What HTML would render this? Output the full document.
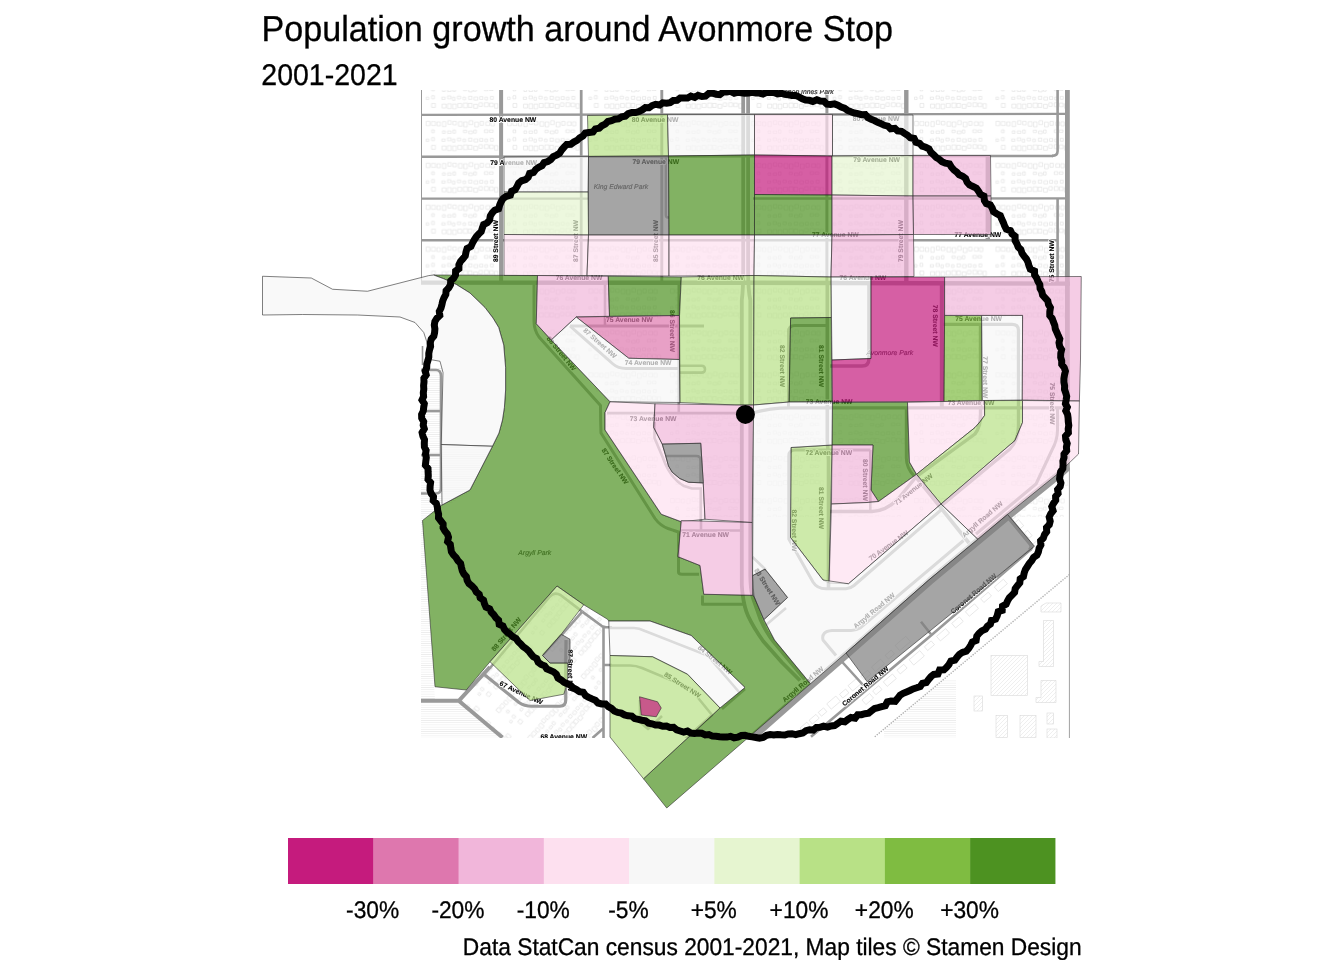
<!DOCTYPE html>
<html lang="en">
<head>
<meta charset="utf-8">
<title>Population growth around Avonmore Stop</title>
<style>
html,body{margin:0;padding:0;background:#fff;}
body{width:1344px;height:960px;overflow:hidden;font-family:"Liberation Sans",Arial,sans-serif;}
svg{display:block;position:absolute;left:0;top:0;}
text{font-family:"Liberation Sans",Arial,sans-serif;fill:#000;text-rendering:geometricPrecision;}
.title,.sub,.cap,.lg{stroke:#000;stroke-width:0.3px;}
.title{font-size:36.0px;}
.sub{font-size:30px;}
.cap{font-size:24px;}
.lg{font-size:24px;}
.pl polygon,.pl path{fill-opacity:0.7;stroke:#2a2a2a;stroke-width:0.6;stroke-linejoin:round;}
.c1{fill:#C51B7D}
.c2{fill:#DE77AE}
.c3{fill:#F1B6DA}
.c4{fill:#FDE0EF}
.c5{fill:#F7F7F7}
.c6{fill:#E6F5D0}
.c7{fill:#B8E186}
.c8{fill:#7FBC41}
.c9{fill:#4D9221}
.na{fill:#7F7F7F}
.rd{fill:none;stroke:#999;stroke-linecap:butt;stroke-linejoin:round;}
.rl{font-size:6.8px;font-weight:bold;fill:#000;stroke:#000;stroke-width:0.1px;}
.h{fill:#fff;stroke:#fff;stroke-width:2px;stroke-linejoin:round;}
.pk{font-size:6.8px;font-style:italic;fill:#222;stroke:#222;stroke-width:0.15px;}
.pk.h{fill:#fff;stroke:#fff;stroke-width:1.4px;}
</style>
</head>
<body>
<svg width="1344" height="960" viewBox="0 0 1344 960">
<rect width="1344" height="960" fill="#fff"/>
<defs>
<clipPath id="mapclip"><rect x="421" y="90" width="649" height="647.5"/></clipPath>
<pattern id="bld" x="501.1" y="114.9" width="81.4" height="41.9" patternUnits="userSpaceOnUse">
<path d="M6.5 6.4h3.7v4.4h-3.7zM11.8 6.7h3.9v3.9h-3.9zM17.3 7.0h3.3v4.0h-3.3zM22.8 6.7h3.3v5.0h-3.3zM28.2 5.8h3.4v3.6h-3.4zM33.2 6.4h3.5v3.6h-3.5zM38.8 6.8h3.8v4.5h-3.8zM44.1 7.0h3.5v5.0h-3.5zM49.5 5.8h3.6v3.9h-3.6zM55.1 7.2h3.7v4.8h-3.7zM60.6 6.5h3.2v3.9h-3.2zM66.3 6.9h3.7v3.7h-3.7zM71.4 6.9h3.3v4.1h-3.3zM12.0 15.0h2.6v2.8h-2.6zM22.8 16.0h2.7v2.5h-2.7zM27.9 16.1h3.6v2.4h-3.6zM33.3 15.1h2.5v3.2h-2.5zM43.8 15.3h3.2v2.4h-3.2zM49.1 16.1h3.7v2.7h-3.7zM54.1 15.1h2.6v3.1h-2.6zM64.8 14.9h3.6v2.8h-3.6zM69.8 15.1h3.7v2.4h-3.7zM6.5 24.1h2.5v2.4h-2.5zM11.9 22.7h2.8v3.1h-2.8zM22.2 24.1h3.2v2.3h-3.2zM27.9 22.9h3.3v2.9h-3.3zM32.8 24.2h2.4v3.1h-2.4zM37.7 23.2h3.3v2.7h-3.3zM43.4 24.1h2.5v2.7h-2.5zM48.9 23.3h3.4v3.0h-3.4zM54.4 24.0h3.7v3.1h-3.7zM60.0 23.6h3.2v2.8h-3.2zM65.3 24.1h2.5v2.8h-2.5zM70.8 23.4h2.9v2.9h-2.9zM11.9 30.5h3.8v3.9h-3.8zM22.4 31.1h4.0v3.9h-4.0zM27.8 30.8h3.7v4.8h-3.7zM32.9 31.1h3.7v4.7h-3.7zM38.1 30.5h3.9v4.0h-3.9zM43.7 30.1h4.2v4.6h-4.2zM48.7 30.4h3.7v4.0h-3.7zM54.1 31.3h3.8v4.0h-3.8zM59.4 29.8h3.3v3.6h-3.3zM64.8 29.7h3.9v4.0h-3.9zM69.9 30.1h3.7v3.6h-3.7zM74.9 30.7h3.3v4.5h-3.3z" fill="none" stroke="#d6d6d6" stroke-width="0.5"/>
</pattern>
<clipPath id="swclip"><path d="M459 701L557 587L602 618V738H502Z"/></clipPath>
<pattern id="hat" x="0" y="0" width="6" height="2.2" patternUnits="userSpaceOnUse">
<path d="M0 1.1H6" stroke="#e9e9e9" stroke-width="0.7"/>
</pattern>
<pattern id="dhat" x="0" y="0" width="4" height="4" patternUnits="userSpaceOnUse">
<path d="M-1 5L5 -1M-1 1L1 -1M3 5L5 3" stroke="#dedede" stroke-width="0.5"/>
</pattern>
<filter id="soft" x="-2%" y="-2%" width="104%" height="104%"><feGaussianBlur stdDeviation="0.4"/></filter>
</defs>
<g id="basemap" clip-path="url(#mapclip)"><g filter="url(#soft)">
<g id="texture">
<rect x="421" y="90" width="649" height="193" fill="url(#bld)"/>
<rect x="537" y="283" width="533" height="124" fill="url(#bld)"/>
<rect x="606" y="407" width="464" height="110" fill="url(#bld)" opacity="0.7"/>
<rect x="588.5" y="157" width="164.5" height="78" fill="#fff"/>
<rect x="832" y="283" width="112" height="120" fill="#fff"/>
<path d="M421 283H537V325L606 402V430L660 515L681 523V595H753L810 684L750 738H421Z" fill="#fff"/>
<path d="M421 368H442V444H494L470 492L423 520H421Z" fill="url(#hat)"/>
<path d="M421 520V738H500L458 700H435L423 520Z" fill="url(#hat)"/>
<path d="M884 738V729L943 680H956V738Z" fill="url(#hat)"/>
<g clip-path="url(#swclip)"><g transform="translate(455 700) rotate(-49)"><rect x="-60" y="0" width="220" height="130" fill="url(#bld)" opacity="0.9"/></g></g>
<g fill="url(#dhat)" stroke="#d9d9d9" stroke-width="0.6">
<rect x="991" y="655.5" width="36.5" height="40"/>
<path d="M1043.5 620.5h10v46h-14.5v-5h4.5z"/>
<path d="M1041 680.5h15v22h-20v-5h5z"/>
<rect x="996" y="715.5" width="11.5" height="22"/>
<rect x="1020" y="715.5" width="16" height="22"/>
<rect x="1047" y="713" width="6.5" height="11"/>
<rect x="1047" y="729" width="10" height="9"/>
<path d="M1041 606l5-3h15v9h-20z"/>
<rect x="974" y="696" width="8.5" height="15"/>
</g>
<g fill="none" stroke="#dcdcdc" stroke-width="0.6">
<path d="M0 0h9v5h-9zM12 0h9v5h-9zM24 0h7v5h-7zM36 -1h12v7h-12zM52 0h8v5h-8zM64 -1h11v7h-11zM80 0h9v5h-9zM94 0h12v6h-12zM112 0h8v5h-8zM126 -1h14v7h-14z" transform="translate(800 728) rotate(-40.5)"/>
<path d="M0 0h10v6h-10zM14 0h8v5h-8zM28 0h12v6h-12zM46 0h9v5h-9zM62 0h14v7h-14zM82 0h9v5h-9zM98 0h12v6h-12zM118 0h10v6h-10zM136 0h12v6h-12zM156 0h10v5h-10zM174 0h12v6h-12z" transform="translate(862 700) rotate(-40.5)"/>
<path d="M0 0h6v4h-6zM10 0h8v5h-8zM24 0h7v4h-7zM38 0h9v5h-9z" transform="translate(1012 512) rotate(49.5)"/>
</g>
</g>

<g class="rd" stroke-width="2.6">
<!-- north grid: streets -->
<path d="M421.4 90V282" stroke-width="1.2"/>
<path d="M501.1 90V282" stroke-width="4"/>
<path d="M581.2 90V282" stroke-width="2.75"/>
<path d="M661.8 90V282" stroke-width="2.9"/>
<path d="M665.8 157V215Q665.8 217.5 668 217.5H669" stroke-width="2.4"/>
<path d="M743.2 90V270Q743.2 290 741.8 300V585Q743 605 748.25 616.25T763.25 641.25L782 662.5L800 680.5" stroke-width="3.8"/>
<path d="M748.1 90V270Q748.1 290 750.3 300V575Q750.5 590 752.8 597.5L760.75 620Q766 632 773.25 641.25L805 679.5" stroke-width="3.8"/>
<path d="M826.9 90V282" stroke-width="3"/>
<path d="M906.3 90V282" stroke-width="4.4"/>
<path d="M987.8 156V240" stroke-width="4.4"/>
<path d="M1057.6 90V151Q1057.6 155.9 1052 155.9" />
<path d="M1057.6 198V282"/>
<path d="M1067.4 90V467" stroke-width="4.8"/>
<path d="M1069.6 463V738" stroke-width="1.4" stroke="#aaa"/>
<!-- avenues -->
<path d="M421 114.9L745 114.4L1065 113.9" stroke-width="2.4"/>
<path d="M421 156.75L745 156.3L1053 155.9" stroke-width="2.5"/>
<path d="M421 198.6H588M753 198.5L1065 198.4" stroke-width="2.4"/>
<path d="M421 240.2H1057" stroke-width="2.6"/>
<path d="M421 282.6L745 282.8L1070 283.6" stroke-width="4.4"/>
<!-- 73 Ave -->
<path d="M607 413.1H741" stroke-width="2.8"/>
<path d="M752 413Q770 407.8 790 407.8H1064" stroke-width="3.3"/>
<!-- mid-west local roads -->
<path d="M534 284V321Q534 330 539 337L600.5 405.5Q600.5 420 601 433L655 518.5Q660 525.5 668 528.5L678.5 532V572Q678.5 574.25 682 574.25H699" stroke-width="3"/>
<path d="M702.5 595.5V604.25H745" stroke-width="3"/>
<path d="M605 284V326"/>
<path d="M570 326H704" stroke-width="3"/>
<path d="M570 326L613 364Q618 368.5 626 368.5H680" stroke-width="3"/>
<path d="M680 365.8H701.5Q705 365.8 705 369.2T701.5 372.6H680"/>
<path d="M678.8 284V412"/>
<path d="M654.5 412V438L663 458Q670 478 684 486L692 488.5H702"/>
<path d="M666 456H696.5Q700.5 456 700.5 460.5V483"/>
<path d="M700.75 488.5V521"/>
<path d="M681 530.5H743"/>
<path d="M701 520V530"/>

<!-- mid-east local roads -->
<path d="M827.3 282V440L828.5 460V589" stroke-width="3.6"/>
<path d="M827 325.5H795Q788.5 325.5 788.5 332V408" stroke-width="3"/>
<path d="M870.5 450H795Q788.8 450 788.8 456V539L813 582Q817 588.75 826 588.75H846Q850 588.75 854 585.5L941 510" stroke-width="3"/>
<path d="M752.5 557L766 570" stroke-width="2.6"/>
<path d="M906.3 409V458Q906.5 468 914 476" stroke-width="3"/>
<path d="M870.3 450V511"/>
<path d="M829 511.5H872Q886 511 898 499L916 477L975 434Q980.5 427 980.5 415V324.3" stroke-width="3.4"/>
<path d="M916 477L969 543" stroke-width="3.6"/>
<path d="M941 506L1010 449Q1018.4 440 1018.4 426V330Q1018.4 324.3 1012 324.3H941" stroke-width="3.2"/>
<path d="M1057.5 409V430Q1057.5 440 1052 450L1036 484L976 534" stroke-width="3"/>
<path d="M830 366H862Q868.9 366 868.9 359V284" stroke-width="3.4"/>
<path d="M941.8 284V408" stroke-width="4"/>
<path d="M963.5 540.5L860 628Q856 630.5 851 630.5H832Q821 631.5 823 640L836 655.5" stroke-width="3"/>
<path d="M786 608L766 625"/>
<!-- Argyll & Coronet -->
<path d="M752.5 737.2L811.6 685L847 654.2L929.8 581.2L1008.5 515.6L1061 473.2L1068.5 466.5" stroke-width="7.4"/>
<path d="M811 736.75L931 635.5L1031 549.25"/>
<path d="M842 661.75L863.5 685.5M921 621.75L931 634.25"/>
<path d="M1009 518L1030 543.5Q1033 547 1029.5 550" stroke-width="4"/>
<path d="M874.75 736.75L1069.75 574.25" stroke-width="1.3" stroke-dasharray="1.3 1.3" stroke="#aaa"/>
<!-- west loop outside polygons -->
<path d="M421 370H436Q441 370 441 376V488Q441 493.5 436 493.5H421" stroke-width="2.6"/>
<path d="M421 411H441M421 455H441" stroke-width="2.4"/>
<path d="M422.5 346V365" stroke-width="1.6"/>
<!-- south-west -->
<path d="M421 700.8H458.75L502.5 737.5M458.75 700.8L490 667" stroke-width="4"/>
<path d="M483 673.5L519 702.5Q524 706 532 706.25H560Q565.75 706.25 565.75 700V665L566 640" stroke-width="3.2"/>
<path d="M603.5 627V738M582.25 611.6L602.5 626.5Q603.5 627 606 627.25H612M582.25 611.6L561.25 635.5M603.75 665H612M603.75 728L592.5 738"/>
<path d="M490 668L549.5 597Q554 591.5 560.5 595L582.25 611.6"/>
<path d="M543 655L561 635" stroke-width="2.2"/>
<path d="M610 628H634Q639 628 645 631L707.5 655.5L739 692"/>
<path d="M610 665.5H630Q636 665.5 642 668L690 688L712 715L648 772"/>
<path d="M640 700V722L648 729L662 716"/>
<path d="M745 689L722 709"/>
</g>

<g id="labels" text-anchor="middle">
<text class="rl h" transform="translate(512.85,119.7)" dy="0.35em">80 Avenue NW</text>
<text class="rl h" transform="translate(513.625,162.2)" dy="0.35em">79 Avenue NW</text>
<text class="rl h" transform="translate(655,120.1)" dy="0.35em">80 Avenue NW</text>
<text class="rl h" transform="translate(655.75,161.35)" dy="0.35em">79 Avenue NW</text>
<text class="rl h" transform="translate(876,118.6)" dy="0.35em">80 Avenue NW</text>
<text class="rl h" transform="translate(876.625,160.1)" dy="0.35em">79 Avenue NW</text>
<text class="rl h" transform="translate(977.875,234.6)" dy="0.35em">77 Avenue NW</text>
<text class="rl h" transform="translate(835.375,234.35)" dy="0.35em">77 Avenue NW</text>
<text class="rl h" transform="translate(579,277.6)" dy="0.35em">76 Avenue NW</text>
<text class="rl h" transform="translate(720.625,277.6)" dy="0.35em">76 Avenue NW</text>
<text class="rl h" transform="translate(862.875,277.6)" dy="0.35em">76 Avenue NW</text>
<text class="rl h" transform="translate(978.625,318.5)" dy="0.35em">75 Avenue NW</text>
<text class="rl h" transform="translate(629.375,319.6)" dy="0.35em">75 Avenue NW</text>
<text class="rl h" transform="translate(648.125,362.6)" dy="0.35em">74 Avenue NW</text>
<text class="rl h" transform="translate(653.125,418.85)" dy="0.35em">73 Avenue NW</text>
<text class="rl h" transform="translate(971,402.35)" dy="0.35em">73 Avenue NW</text>
<text class="rl h" transform="translate(829.125,401.85)" dy="0.35em">73 Avenue NW</text>
<text class="rl h" transform="translate(828.75,453.1)" dy="0.35em">72 Avenue NW</text>
<text class="rl h" transform="translate(705.625,535.1)" dy="0.35em">71 Avenue NW</text>
<text class="rl h" transform="translate(563.75,737.1)" dy="0.35em">68 Avenue NW</text>
<text class="rl h" transform="translate(495.2,241.125) rotate(-90)" dy="0.35em">89 Street NW</text>
<text class="rl h" transform="translate(575.6,241) rotate(-90)" dy="0.35em">87 Street NW</text>
<text class="rl h" transform="translate(655.6,241) rotate(-90)" dy="0.35em">85 Street NW</text>
<text class="rl h" transform="translate(900.5,241.125) rotate(-90)" dy="0.35em">79 Street NW</text>
<text class="rl h" transform="translate(1051.9,261.25) rotate(-90)" dy="0.35em">75 Street NW</text>
<text class="rl h" transform="translate(672.5,331) rotate(90)" dy="0.35em">86 Street NW</text>
<text class="rl h" transform="translate(782.5,366) rotate(90)" dy="0.35em">82 Street NW</text>
<text class="rl h" transform="translate(821.25,366) rotate(90)" dy="0.35em">81 Street NW</text>
<text class="rl h" transform="translate(935.5,325.75) rotate(90)" dy="0.35em">78 Street NW</text>
<text class="rl h" transform="translate(985.25,377.25) rotate(90)" dy="0.35em">77 Street NW</text>
<text class="rl h" transform="translate(1052.25,403.5) rotate(90)" dy="0.35em">75 Street NW</text>
<text class="rl h" transform="translate(821.5,508) rotate(90)" dy="0.35em">81 Street NW</text>
<text class="rl h" transform="translate(794,530.375) rotate(90)" dy="0.35em">82 Street NW</text>
<text class="rl h" transform="translate(865.25,479.875) rotate(90)" dy="0.35em">80 Street NW</text>
<text class="rl h" transform="translate(570,670.5) rotate(90)" dy="0.35em">87 Street NW</text>
<text class="rl h" transform="translate(913.5,489.25) rotate(-38.1572)" dy="0.35em">71 Avenue NW</text>
<text class="rl h" transform="translate(888.5,545.5) rotate(-35.5377)" dy="0.35em">70 Avenue NW</text>
<text class="rl h" transform="translate(982.25,519.25) rotate(-40.9144)" dy="0.35em">Argyll Road NW</text>
<text class="rl h" transform="translate(874.125,610.5) rotate(-39.6107)" dy="0.35em">Argyll Road NW</text>
<text class="rl h" transform="translate(802.875,684.25) rotate(-39.9869)" dy="0.35em">Argyll Road NW</text>
<text class="rl h" transform="translate(865.25,686.125) rotate(-39.8056)" dy="0.35em">Coronet Road NW</text>
<text class="rl h" transform="translate(973.5,593.625) rotate(-40.4622)" dy="0.35em">Coronet Road NW</text>
<text class="rl h" transform="translate(521.25,692.75) rotate(25.0169)" dy="0.35em">67 Avenue NW</text>
<text class="rl h" transform="translate(506.25,634.25) rotate(-49.7636)" dy="0.35em">88 Street NW</text>
<text class="rl h" transform="translate(615,466.125) rotate(55.4077)" dy="0.35em">87 Street NW</text>
<text class="rl h" transform="translate(561.5,353.5) rotate(50.7106)" dy="0.35em">88 Street NW</text>
<text class="rl h" transform="translate(600,343.125) rotate(41.4965)" dy="0.35em">87 Street NW</text>
<text class="rl h" transform="translate(682.5,684.875) rotate(32.3474)" dy="0.35em">85 Street NW</text>
<text class="rl h" transform="translate(715,659.875) rotate(39.4007)" dy="0.35em">84 Street NW</text>
<text class="rl h" transform="translate(767.25,586.75) rotate(57.5288)" dy="0.35em">83 Street NW</text>
<text class="pk h" transform="translate(620.875,186.35)" dy="0.35em">King Edward Park</text>
<text class="pk h" transform="translate(534.75,553.1)" dy="0.35em">Argyll Park</text>
<text class="pk h" transform="translate(889.75,353.1)" dy="0.35em">Avonmore Park</text>
<text class="pk h" transform="translate(806,91.85)" dy="0.35em">Bishop Innes Park</text>
<text class="rl" transform="translate(512.85,119.7)" dy="0.35em">80 Avenue NW</text>
<text class="rl" transform="translate(513.625,162.2)" dy="0.35em">79 Avenue NW</text>
<text class="rl" transform="translate(655,120.1)" dy="0.35em">80 Avenue NW</text>
<text class="rl" transform="translate(655.75,161.35)" dy="0.35em">79 Avenue NW</text>
<text class="rl" transform="translate(876,118.6)" dy="0.35em">80 Avenue NW</text>
<text class="rl" transform="translate(876.625,160.1)" dy="0.35em">79 Avenue NW</text>
<text class="rl" transform="translate(977.875,234.6)" dy="0.35em">77 Avenue NW</text>
<text class="rl" transform="translate(835.375,234.35)" dy="0.35em">77 Avenue NW</text>
<text class="rl" transform="translate(579,277.6)" dy="0.35em">76 Avenue NW</text>
<text class="rl" transform="translate(720.625,277.6)" dy="0.35em">76 Avenue NW</text>
<text class="rl" transform="translate(862.875,277.6)" dy="0.35em">76 Avenue NW</text>
<text class="rl" transform="translate(978.625,318.5)" dy="0.35em">75 Avenue NW</text>
<text class="rl" transform="translate(629.375,319.6)" dy="0.35em">75 Avenue NW</text>
<text class="rl" transform="translate(648.125,362.6)" dy="0.35em">74 Avenue NW</text>
<text class="rl" transform="translate(653.125,418.85)" dy="0.35em">73 Avenue NW</text>
<text class="rl" transform="translate(971,402.35)" dy="0.35em">73 Avenue NW</text>
<text class="rl" transform="translate(829.125,401.85)" dy="0.35em">73 Avenue NW</text>
<text class="rl" transform="translate(828.75,453.1)" dy="0.35em">72 Avenue NW</text>
<text class="rl" transform="translate(705.625,535.1)" dy="0.35em">71 Avenue NW</text>
<text class="rl" transform="translate(563.75,737.1)" dy="0.35em">68 Avenue NW</text>
<text class="rl" transform="translate(495.2,241.125) rotate(-90)" dy="0.35em">89 Street NW</text>
<text class="rl" transform="translate(575.6,241) rotate(-90)" dy="0.35em">87 Street NW</text>
<text class="rl" transform="translate(655.6,241) rotate(-90)" dy="0.35em">85 Street NW</text>
<text class="rl" transform="translate(900.5,241.125) rotate(-90)" dy="0.35em">79 Street NW</text>
<text class="rl" transform="translate(1051.9,261.25) rotate(-90)" dy="0.35em">75 Street NW</text>
<text class="rl" transform="translate(672.5,331) rotate(90)" dy="0.35em">86 Street NW</text>
<text class="rl" transform="translate(782.5,366) rotate(90)" dy="0.35em">82 Street NW</text>
<text class="rl" transform="translate(821.25,366) rotate(90)" dy="0.35em">81 Street NW</text>
<text class="rl" transform="translate(935.5,325.75) rotate(90)" dy="0.35em">78 Street NW</text>
<text class="rl" transform="translate(985.25,377.25) rotate(90)" dy="0.35em">77 Street NW</text>
<text class="rl" transform="translate(1052.25,403.5) rotate(90)" dy="0.35em">75 Street NW</text>
<text class="rl" transform="translate(821.5,508) rotate(90)" dy="0.35em">81 Street NW</text>
<text class="rl" transform="translate(794,530.375) rotate(90)" dy="0.35em">82 Street NW</text>
<text class="rl" transform="translate(865.25,479.875) rotate(90)" dy="0.35em">80 Street NW</text>
<text class="rl" transform="translate(570,670.5) rotate(90)" dy="0.35em">87 Street NW</text>
<text class="rl" transform="translate(913.5,489.25) rotate(-38.1572)" dy="0.35em">71 Avenue NW</text>
<text class="rl" transform="translate(888.5,545.5) rotate(-35.5377)" dy="0.35em">70 Avenue NW</text>
<text class="rl" transform="translate(982.25,519.25) rotate(-40.9144)" dy="0.35em">Argyll Road NW</text>
<text class="rl" transform="translate(874.125,610.5) rotate(-39.6107)" dy="0.35em">Argyll Road NW</text>
<text class="rl" transform="translate(802.875,684.25) rotate(-39.9869)" dy="0.35em">Argyll Road NW</text>
<text class="rl" transform="translate(865.25,686.125) rotate(-39.8056)" dy="0.35em">Coronet Road NW</text>
<text class="rl" transform="translate(973.5,593.625) rotate(-40.4622)" dy="0.35em">Coronet Road NW</text>
<text class="rl" transform="translate(521.25,692.75) rotate(25.0169)" dy="0.35em">67 Avenue NW</text>
<text class="rl" transform="translate(506.25,634.25) rotate(-49.7636)" dy="0.35em">88 Street NW</text>
<text class="rl" transform="translate(615,466.125) rotate(55.4077)" dy="0.35em">87 Street NW</text>
<text class="rl" transform="translate(561.5,353.5) rotate(50.7106)" dy="0.35em">88 Street NW</text>
<text class="rl" transform="translate(600,343.125) rotate(41.4965)" dy="0.35em">87 Street NW</text>
<text class="rl" transform="translate(682.5,684.875) rotate(32.3474)" dy="0.35em">85 Street NW</text>
<text class="rl" transform="translate(715,659.875) rotate(39.4007)" dy="0.35em">84 Street NW</text>
<text class="rl" transform="translate(767.25,586.75) rotate(57.5288)" dy="0.35em">83 Street NW</text>
<text class="pk" transform="translate(620.875,186.35)" dy="0.35em">King Edward Park</text>
<text class="pk" transform="translate(534.75,553.1)" dy="0.35em">Argyll Park</text>
<text class="pk" transform="translate(889.75,353.1)" dy="0.35em">Avonmore Park</text>
<text class="pk" transform="translate(806,91.85)" dy="0.35em">Bishop Innes Park</text>
</g>

</g></g>
<g class="pl">
<polygon class="c7" points="587.5,115.5 667.5,114.5 668.5,156 588.5,156.5"/>
<polygon class="c5" points="667.5,114.5 754.5,114.5 754.5,155 668.5,156"/>
<polygon class="c4" points="754.5,114.5 832.5,114.5 832.5,156 754.5,155"/>
<polygon class="c5" points="832.5,115 913,115 913,155.5 832.5,156"/>
<polygon class="c5" points="504,157 588.5,156.5 588,192 504,192"/>
<polygon class="na" points="588.5,156.5 668.5,156 669,235 588.5,235"/>
<polygon class="c9" points="668.5,156 754.5,155 754.5,235 669,235"/>
<polygon class="c1" points="754.5,155 832,156 832,195 754.5,194.5"/>
<polygon class="c6" points="832,156 913,155.5 913,196 832,195"/>
<polygon class="c3" points="913,155.5 990.5,155.5 991,196 913,196"/>
<polygon class="c6" points="504,192 588,192 588.5,235 504,234.5"/>
<polygon class="c9" points="754.5,194.5 832,195 832,235 754.5,235"/>
<polygon class="c3" points="832,195 913,196 913.5,234.5 832,235"/>
<polygon class="c3" points="913,196 991,196 991,234.5 913.5,234.5"/>
<polygon class="c4" points="504,234.5 588.5,235 587,275.5 504,275.5"/>
<polygon class="c4" points="588.5,235 669,235 669,276 587,275.5"/>
<polygon class="c4" points="669,235 754.5,235 754,275.5 669,276"/>
<polygon class="c5" points="754.5,235 832,235 831,277 754,275.5"/>
<polygon class="c3" points="832,235 913.5,234.5 914,276.5 831,277"/>
<polygon class="c9" points="537.5,275.5 536.25,323.75 551.25,340 610,401.75 605,412.5 605,430 661.25,514.25 681.25,521.75 678,556.75 700,565.5 703.75,594.25 752.6,595.3 753.9,596.25 763.9,619.75 774.5,640 810.5,683.75 666.75,808 643.5,778.75 720,708 745,687.5 691.25,635.5 650,621 608.75,621 607.5,619.25 583.75,604.75 557,586 490,661.75 466.25,690 435,686.75 422.5,520.5 442,505 470,490 492.5,446.25 499,433 502.5,420 504.4,407.5 505.6,390 505.6,367.5 503.75,345 498.75,327.5 493,318 485,307.5 470,293 456.25,284.4 443.75,278.75 433.75,275"/>
<polygon class="c3" points="537.5,275.5 608.25,276.25 609.5,316.25 576.25,317 551.25,340 536.25,323.75"/>
<polygon class="c9" points="608.25,276.25 681.25,277 679.5,315.5 609.5,316.25"/>
<polygon class="c2" points="576.25,317 679.5,315.5 679.5,359.5 628.75,358.25"/>
<polygon class="c5" points="576.25,317 628.75,358.25 679.5,359.5 680,402.5 610,401.75 551.25,340"/>
<polygon class="c7" points="681.25,277 754,275.5 753.5,405 736,405 680,402.5 679.5,315.5"/>
<polygon class="c7" points="754,275.5 831.25,277 831.25,317.5 790.6,318 789.1,402 753.5,405"/>
<polygon class="c9" points="790.6,318 831.25,317.5 832,401.25 789.1,402"/>
<polygon class="c5" points="831,277 871,277 871,358.5 832,360"/>
<polygon class="c1" points="871,277 944.6,277 944.6,315.4 944,401.5 832.5,402 832,360 871,358.5"/>
<polygon class="c8" points="944.6,315.4 981.6,315.4 982.25,400.5 944,401.5"/>
<polygon class="c5" points="981.6,315.4 1022.6,315.4 1022.25,400 982.25,400.5"/>
<polygon class="c3" points="944.6,277 1081.25,276.5 1080.5,359 1079.4,401 1022.25,400 1022.6,315.4 944.6,315.4"/>
<polygon class="c4" points="610,401.75 655,403.75 653.75,427.5 662.25,444.1 665.4,454.75 668.5,466 672.25,472.25 679.75,478.5 688.5,482.25 703.25,482.9 705,519.25 681.25,521.75 661.25,514.25 605,430 605,412.5"/>
<polygon class="c3" points="655,403.75 736,405 753.5,405 752.2,522.5 705,519.25 703.25,482.9 700.75,443.25 662.25,444.1 653.75,427.5"/>
<polygon class="na" points="662.25,444.1 700.75,443.25 703.25,482.9 688.5,482.25 679.75,478.5 672.25,472.25 668.5,466 665.4,454.75"/>
<polygon class="c3" points="681.25,520.5 752.2,522.5 752.6,595.3 703.75,594.25 700,565.5 678,556.75"/>
<polygon class="na" points="752.6,575.6 765,569 787.6,597.5 763.9,619.75 753.9,596.25"/>
<polygon class="c9" points="832.25,402.5 907.5,402.3 909.4,462 916.5,474.3 878.5,501.5 871,490 873,445 832,445"/>
<polygon class="c4" points="907.5,402.3 984.6,400.6 984.6,415.4 980.25,421.5 975,427.5 916.5,474.3 909.4,462"/>
<polygon class="c7" points="984.6,400.6 1022.5,400.5 1022.5,422.5 1015,440.5 941,504 916.5,474.3 975,427.5 980.25,421.5 984.6,415.4"/>
<polygon class="c4" points="1022.5,400.5 1079.4,401 1078.5,454 1066,466 1060,472 1007.5,514.4 978,539.5 941,504 1015,440.5 1022.5,422.5"/>
<polygon class="c3" points="832,445 873,445 871,490 878.5,501.5 867,502.5 831.5,504"/>
<polygon class="c7" points="791,447.5 832,445 829,583 823,580 790.5,537.5"/>
<polygon class="c4" points="831.5,504 867,502.5 878.5,501.5 916.5,474.3 941,504 848.5,583.75 829,583"/>
<polygon class="c5" points="753.5,405 789.1,402 832.5,402 832,445 791,447.5 790.5,537.5 823,580 848.5,583.75 941,504 978,539.5 928.75,580 846,653 810.5,683.75 774.5,640 763.9,619.75 787.6,597.5 765,569 752.6,575.6"/>
<polygon class="na" points="846,653 928.75,580 1007.5,514.4 1034.4,546.25 867.25,681.75"/>
<polygon class="c7" points="557,586 583.75,604.75 561.25,634.25 542.5,655.5 550,663 567.5,663 567.5,683 563.75,694.25 530,700.5 490,661.75"/>
<polygon class="na" points="561.25,634.25 570,639.25 570,663 550,663 542.5,655.5"/>
<polygon class="c5" points="608.75,621 650,621 691.25,635.5 745,687.5 720,708 687.5,674.25 652.5,656.75 610,655.5"/>
<polygon class="c7" points="610,655.5 652.5,656.75 687.5,674.25 720,708 643.5,778.75 610,737"/>
<polygon class="c1" points="639.5,696.75 657.5,701.75 661.25,708 656.25,716.75 641.25,715"/>
<polygon class="c5" points="262.5,276.25 311.25,278 332.5,289.25 367.5,291.25 428.75,275.6 433.75,275 443.75,278.75 456.25,284.4 470,293 485,307.5 493,318 498.75,327.5 503.75,345 505.6,367.5 505.6,390 504.4,407.5 502.5,420 499,433 492.5,446.25 441.25,444.5 443,372.5 440,361.25 430,359.5 427,360 427,342.5 423.75,332.5 415,322.5 400,317 357.5,315 302.5,314.5 262.5,315"/>
<polygon class="c5" points="441.25,444.5 492.5,446.25 470,490 442,505"/>
</g>
<clipPath id="panel"><rect x="200" y="90" width="1000" height="740"/></clipPath>
<path clip-path="url(#panel)" d="M1067.6,414.5L1068.1,418.1L1068.3,421.8L1068.8,425.4L1068.2,429.0L1068.4,432.7L1065.5,436.1L1065.8,439.7L1067.2,443.5L1066.4,447.1L1066.7,450.7L1064.0,454.1L1064.0,457.7L1062.9,461.2L1063.1,464.9L1062.8,468.5L1060.6,471.8L1060.0,475.3L1059.6,478.9L1060.9,482.9L1060.2,486.4L1057.6,489.5L1058.1,493.4L1055.6,496.5L1055.7,500.2L1053.5,503.4L1051.8,506.6L1053.1,510.8L1050.7,513.8L1049.2,517.1L1050.2,521.3L1049.3,524.8L1046.5,527.6L1046.7,531.6L1044.5,534.7L1043.3,538.1L1040.6,540.9L1040.9,544.9L1039.2,548.1L1038.4,551.8L1036.9,555.1L1033.6,557.5L1031.7,560.6L1029.4,563.4L1027.4,566.5L1025.4,569.5L1024.2,572.9L1023.4,576.6L1020.2,578.9L1019.8,582.9L1017.4,585.7L1015.2,588.6L1014.6,592.4L1012.0,595.1L1009.4,597.7L1007.6,600.8L1006.1,604.2L1002.5,606.1L1002.2,610.4L998.2,611.8L997.2,615.7L995.6,619.0L991.5,620.3L990.4,624.1L987.4,626.3L985.4,629.3L981.7,630.9L979.0,633.3L976.8,636.1L976.1,640.4L972.4,641.9L970.7,645.3L968.7,648.5L966.3,651.2L962.4,652.4L959.4,654.4L957.0,657.1L954.8,660.2L950.9,661.1L949.0,664.5L946.6,667.3L943.9,669.8L939.6,670.0L938.0,673.9L933.8,674.4L931.0,676.6L928.6,679.4L926.3,682.5L922.4,683.3L920.2,686.5L916.7,687.8L913.1,688.9L909.9,690.5L906.5,691.9L903.2,693.3L900.1,695.1L897.7,698.3L895.2,701.3L891.0,701.1L887.3,701.8L885.3,705.7L881.7,706.7L878.2,707.7L874.6,708.5L871.6,710.8L868.7,713.1L865.0,713.7L861.5,714.7L857.7,714.8L855.1,718.2L851.0,717.5L847.9,719.4L844.9,721.8L840.9,721.2L837.8,723.5L834.6,725.6L831.0,725.9L827.5,727.2L823.5,726.1L820.1,727.3L816.4,727.4L813.3,730.1L809.5,729.7L806.0,730.6L802.8,733.0L799.2,733.7L795.7,734.7L791.9,733.7L788.3,733.9L784.8,735.0L781.1,734.8L777.4,734.5L773.8,734.9L770.2,734.5L766.6,735.2L763.1,737.5L759.5,738.2L755.9,737.5L752.2,736.9L748.6,736.3L745.0,735.3L741.4,735.5L737.8,737.2L734.1,737.8L730.5,736.3L726.9,737.1L723.2,737.1L719.6,736.7L716.0,736.2L712.4,736.1L708.9,734.6L705.3,734.9L701.8,733.3L698.2,733.1L694.5,733.5L690.9,733.0L687.5,731.1L683.7,732.1L680.2,731.0L676.7,729.9L673.6,727.3L669.8,727.5L666.5,726.1L662.7,726.3L659.3,725.1L655.5,725.1L652.1,723.8L648.5,723.1L645.5,720.8L641.9,720.2L638.3,719.4L634.7,718.6L631.8,716.1L628.0,715.8L624.5,714.9L621.3,713.1L617.7,712.4L614.3,711.1L611.5,708.4L608.3,706.6L605.6,703.9L601.6,703.9L598.0,703.0L595.3,700.3L592.0,698.9L588.7,697.3L585.5,695.6L583.2,692.3L579.4,691.7L576.4,689.6L573.2,687.9L570.6,685.3L567.3,683.7L563.9,682.2L561.1,679.9L558.0,678.0L556.3,674.2L553.6,671.9L550.2,670.4L546.8,668.9L544.6,665.8L541.1,664.4L538.2,662.2L536.6,658.5L533.3,656.8L531.0,654.0L528.8,651.1L526.1,648.7L523.1,646.6L520.7,643.9L518.1,641.4L516.0,638.5L512.6,636.7L510.1,634.1L507.0,632.0L504.5,629.4L502.9,626.0L499.2,624.4L498.6,620.2L495.9,617.8L493.8,614.8L491.3,612.2L489.7,608.9L486.0,607.2L484.5,603.8L483.5,600.1L480.2,597.9L479.2,594.3L476.3,591.9L474.6,588.7L472.1,586.0L469.0,583.6L467.2,580.5L466.4,576.7L463.9,574.0L462.3,570.7L461.4,567.1L460.6,563.4L458.0,560.8L456.1,557.6L453.4,554.9L451.4,551.8L450.8,548.1L450.3,544.4L447.6,541.6L448.5,537.3L447.4,533.9L444.9,531.0L443.1,527.8L443.1,524.0L440.8,520.9L438.5,517.9L438.6,514.1L437.7,510.6L437.3,506.9L436.3,503.4L433.2,500.5L433.5,496.7L431.2,493.6L430.0,490.1L430.1,486.4L430.6,482.6L428.0,479.4L428.3,475.7L428.1,472.0L428.0,468.4L425.4,465.1L425.8,461.4L426.3,457.7L425.5,454.1L426.1,450.4L424.4,447.0L424.3,443.4L424.5,439.7L422.9,436.2L422.1,432.6L424.3,428.9L423.2,425.3L423.7,421.7L421.7,418.1L421.6,414.5L423.3,410.9L423.7,407.3L424.3,403.7L422.0,400.0L423.6,396.5L423.3,392.8L423.8,389.2L423.6,385.6L424.0,382.0L423.9,378.3L426.2,374.9L425.2,371.2L426.7,367.7L426.8,364.1L427.9,360.6L428.8,357.1L428.8,353.4L429.5,349.9L430.6,346.4L430.3,342.7L431.2,339.2L433.8,336.1L434.6,332.6L434.9,328.9L434.3,325.0L434.9,321.4L436.9,318.2L439.8,315.4L439.3,311.4L441.0,308.1L441.9,304.6L442.7,301.0L444.0,297.7L445.8,294.5L446.1,290.7L448.7,287.9L450.5,284.7L450.7,280.8L453.7,278.2L455.5,275.1L455.6,271.1L458.9,268.7L458.9,264.7L460.5,261.4L463.0,258.6L465.3,255.8L466.0,252.0L467.1,248.5L470.9,246.5L472.4,243.2L474.1,240.0L476.1,237.0L478.5,234.3L481.2,231.7L482.3,228.1L483.6,224.6L487.3,222.8L489.6,220.0L490.3,216.0L492.2,212.9L494.7,210.3L498.6,208.8L499.7,205.0L501.2,201.5L503.2,198.4L506.3,196.3L510.4,195.2L511.6,191.3L515.1,189.7L517.0,186.5L518.7,183.1L521.6,180.8L525.5,179.7L528.2,177.3L529.6,173.5L533.5,172.5L535.7,169.4L538.7,167.3L542.0,165.7L544.1,162.6L547.8,161.5L550.8,159.5L553.2,156.7L556.6,155.1L559.6,153.3L561.7,149.9L564.1,147.1L566.7,144.4L570.9,144.2L573.8,142.1L577.0,140.4L579.7,137.8L582.9,136.1L585.3,133.1L589.1,132.5L593.0,132.0L595.4,128.9L599.2,128.3L601.9,125.7L605.2,124.2L607.9,121.5L611.5,120.6L614.8,119.2L618.6,118.8L621.7,116.8L625.3,116.2L628.2,113.6L631.7,112.6L635.5,112.6L639.0,111.5L642.2,109.9L645.3,107.6L649.1,107.8L652.2,105.5L655.6,104.3L659.6,105.0L662.7,102.8L666.6,103.3L670.1,102.7L673.3,100.5L677.0,100.4L680.2,97.9L683.9,97.9L687.6,98.0L690.9,96.1L694.8,97.5L698.1,95.4L701.9,96.5L705.5,96.2L708.8,93.4L712.4,93.1L716.2,94.2L719.8,94.7L723.3,92.0L726.9,92.0L730.5,91.4L734.2,93.2L737.8,92.2L741.4,92.7L745.0,93.3L748.6,93.1L752.2,92.3L755.8,92.9L759.4,93.1L763.0,94.1L766.7,92.4L770.3,92.6L774.0,92.4L777.5,93.8L781.2,93.2L784.7,94.4L788.3,94.8L791.9,95.4L795.5,95.4L799.0,96.9L802.3,98.7L805.7,100.0L809.3,100.3L812.8,101.4L816.8,99.7L820.2,101.1L823.9,101.2L826.9,104.2L830.6,104.4L834.5,103.9L837.9,105.2L841.1,107.0L844.5,108.2L847.6,110.4L850.9,111.8L854.3,113.0L857.9,113.6L861.4,114.7L865.3,114.5L868.0,117.6L871.2,119.2L874.5,120.6L877.7,122.4L881.1,123.6L884.3,125.3L887.9,126.2L890.6,128.8L894.9,128.3L897.6,130.9L901.5,131.3L904.5,133.4L907.6,135.3L910.3,137.8L914.1,138.5L916.0,142.3L919.6,143.4L922.2,146.1L925.7,147.3L929.0,149.0L931.0,152.4L933.7,154.8L936.2,157.5L939.3,159.3L942.0,161.7L945.4,163.2L949.5,163.9L951.5,167.2L953.9,170.0L956.8,172.1L959.2,174.8L962.7,176.3L965.6,178.5L967.1,182.2L969.5,184.9L973.0,186.5L976.4,188.2L978.5,191.2L980.4,194.4L983.9,196.1L984.4,200.5L986.3,203.6L990.3,205.0L992.2,208.1L993.5,211.7L996.7,213.8L1000.3,215.6L1001.7,219.0L1003.3,222.4L1004.6,225.9L1006.3,229.1L1010.4,230.6L1012.0,233.9L1015.1,236.2L1015.1,240.6L1016.9,243.7L1018.2,247.1L1020.9,249.7L1022.0,253.2L1024.1,256.1L1026.4,259.0L1028.0,262.2L1029.0,265.8L1030.3,269.1L1034.5,271.1L1034.6,275.0L1036.7,278.1L1038.0,281.4L1039.8,284.6L1040.1,288.4L1041.8,291.6L1042.6,295.1L1045.1,298.0L1047.8,300.9L1048.5,304.4L1050.4,307.6L1049.8,311.7L1049.8,315.5L1052.2,318.5L1053.4,321.9L1054.8,325.3L1055.3,328.9L1056.8,332.2L1058.2,335.6L1059.8,338.9L1059.0,342.8L1059.7,346.4L1061.6,349.7L1060.8,353.5L1060.7,357.2L1061.7,360.7L1061.7,364.3L1064.2,367.6L1065.4,371.1L1064.5,374.9L1063.9,378.6L1063.9,382.2L1064.6,385.7L1064.5,389.4L1065.7,392.9L1066.7,396.4L1066.1,400.1L1065.4,403.7L1067.3,407.3L1065.8,410.9Z" fill="none" stroke="#000" stroke-width="7.0" stroke-linejoin="miter" stroke-miterlimit="3"/>
<circle cx="745.4" cy="414.4" r="9.5" fill="#000"/>
<text transform="translate(261.4,40.7) scale(0.9486,1)" class="title">Population growth around Avonmore Stop</text>
<text transform="translate(261.3,84.7) scale(0.95,1)" class="sub">2001-2021</text>
<g id="legend">
<rect x="288.00" y="838" width="85.77" height="46" fill="#C51B7D"/>
<rect x="373.27" y="838" width="85.77" height="46" fill="#DE77AE"/>
<rect x="458.54" y="838" width="85.77" height="46" fill="#F1B6DA"/>
<rect x="543.81" y="838" width="85.77" height="46" fill="#FDE0EF"/>
<rect x="629.08" y="838" width="85.77" height="46" fill="#F7F7F7"/>
<rect x="714.35" y="838" width="85.77" height="46" fill="#E6F5D0"/>
<rect x="799.62" y="838" width="85.77" height="46" fill="#B8E186"/>
<rect x="884.89" y="838" width="85.77" height="46" fill="#7FBC41"/>
<rect x="970.16" y="838" width="85.27" height="46" fill="#4D9221"/>
<text transform="translate(372.67,918) scale(0.948,1)" text-anchor="middle" class="lg">-30%</text>
<text transform="translate(457.94,918) scale(0.948,1)" text-anchor="middle" class="lg">-20%</text>
<text transform="translate(543.21,918) scale(0.948,1)" text-anchor="middle" class="lg">-10%</text>
<text transform="translate(628.48,918) scale(0.948,1)" text-anchor="middle" class="lg">-5%</text>
<text transform="translate(713.75,918) scale(0.948,1)" text-anchor="middle" class="lg">+5%</text>
<text transform="translate(799.02,918) scale(0.948,1)" text-anchor="middle" class="lg">+10%</text>
<text transform="translate(884.29,918) scale(0.948,1)" text-anchor="middle" class="lg">+20%</text>
<text transform="translate(969.56,918) scale(0.948,1)" text-anchor="middle" class="lg">+30%</text>
</g>
<text transform="translate(1081.6,954.8) scale(0.948,1)" text-anchor="end" class="cap">Data StatCan census 2001-2021, Map tiles © Stamen Design</text>
</svg>
</body>
</html>
